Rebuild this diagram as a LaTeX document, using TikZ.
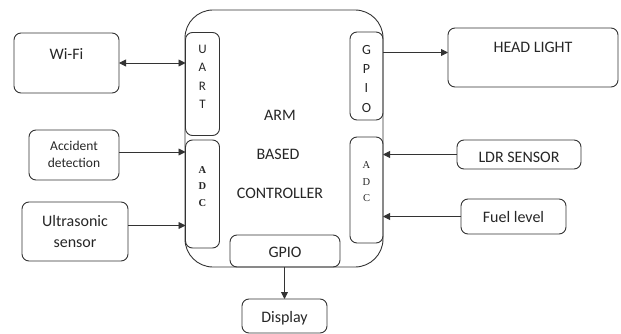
\documentclass[tikz,border=0pt]{standalone}
\usepackage{fontspec}
\setmainfont{Carlito}
\newfontfamily\adcfont{Liberation Serif}
\usetikzlibrary{arrows.meta}
\begin{document}
\begin{tikzpicture}[x=1pt,y=-1pt,
  line/.style={draw=black!80,line width=0.9pt},
  box/.style={line,rounded corners=7pt,inner sep=0pt,outer sep=0pt},
  txt/.style={inner sep=0pt,text=black!85},
  big/.style={txt,font=\fontsize{16}{21}\selectfont},
  arr/.style={line,-{Triangle[length=7pt,width=7pt]}}
]
\useasboundingbox (0,0) rectangle (621,334);
% controller
\node[line,rounded corners=28pt,minimum width=198pt,minimum height=257pt,inner sep=0pt,outer sep=0pt] (ctrl) at (284,138.5) {};
% inner ports
\node[box,minimum width=34pt,minimum height=103pt] (uart) at (202.5,84) {};
\node[box,minimum width=34pt,minimum height=108pt] (adcl) at (202.5,194) {};
\node[box,minimum width=33pt,minimum height=88pt] (gpior) at (366.5,76) {};
\node[box,minimum width=33pt,minimum height=106pt] (adcr) at (366.5,190) {};
\node[box,minimum width=110pt,minimum height=32pt] (gpiob) at (285,251) {};
% outer boxes
\node[box,minimum width=105pt,minimum height=60pt] (wifi) at (66.5,63) {};
\node[box,minimum width=90pt,minimum height=50pt] (acc) at (74,155) {};
\node[box,minimum width=106pt,minimum height=59pt] (ultra) at (75,231.5) {};
\node[box,minimum width=170pt,minimum height=59pt] (hl) at (533,57.5) {};
\node[box,minimum width=124pt,minimum height=29pt] (ldr) at (519,154.5) {};
\node[box,minimum width=105pt,minimum height=35pt] (fuel) at (513.5,216.5) {};
\node[box,minimum width=85pt,minimum height=34pt] (disp) at (284.5,316) {};
% texts
\node[big,anchor=base] (wifit) at (66.5,60) {Wi-Fi};
\node[big,anchor=base] (hlt) at (533,52.7) {HEAD LIGHT};
\node[big,anchor=base] (ldrt) at (519,163) {LDR SENSOR};
\node[big,anchor=base] (fuelt) at (513.5,222) {Fuel level};
\node[big,anchor=base] (dispt) at (284.5,322) {Display};
\node[big,anchor=base] (gpiobt) at (285,257) {GPIO};
\node[big,anchor=base] (armt) at (280,121) {ARM};
\node[big,anchor=base] (basedt) at (278,159) {BASED};
\node[big,anchor=base] (ctrlt) at (280,198) {CONTROLLER};
\node[txt,anchor=north,align=center,font=\fontsize{13.5}{17.3}\selectfont] (acct) at (74,141) {Accident\\detection};
\node[big,anchor=north,align=center,font=\fontsize{16}{21.5}\selectfont] (ultrat) at (75,215) {Ultrasonic\\sensor};
\node[txt,anchor=north,align=center,font=\fontsize{13}{18.3}\selectfont] (uartt) at (202.5,45) {U\\A\\R\\T};
\node[txt,anchor=north,align=center,font=\fontsize{14}{19.3}\selectfont] (gpiort) at (366.5,45) {G\\P\\I\\O};
\node[txt,anchor=north,align=center,font=\adcfont\bfseries\fontsize{10.5}{16.5}\selectfont] (adclt) at (202.5,166) {A\\D\\C};
\node[txt,anchor=north,align=center,font=\adcfont\fontsize{10.5}{16.5}\selectfont] (adcrt) at (366.5,161.7) {A\\D\\C};
% connectors
\draw[line,{Triangle[length=7pt,width=7pt]}-{Triangle[length=7pt,width=7pt]}] (wifi.east) -- (wifi.east -| uart.west);
\draw[arr] ([yshift=3pt]acc.east) -- ([yshift=3pt]acc.east -| adcl.west);
\draw[arr] ([yshift=6pt]ultra.east) -- ([yshift=6pt]ultra.east -| adcl.west);
\draw[arr] ([yshift=5pt]hl.west -| gpior.east) -- ([yshift=5pt]hl.west);
\draw[arr] (ldr.west) -- (ldr.west -| adcr.east);
\draw[arr] (fuel.west) -- (fuel.west -| adcr.east);
\draw[arr] (gpiob.south -| disp.north) -- (disp.north);
\end{tikzpicture}
\end{document}
